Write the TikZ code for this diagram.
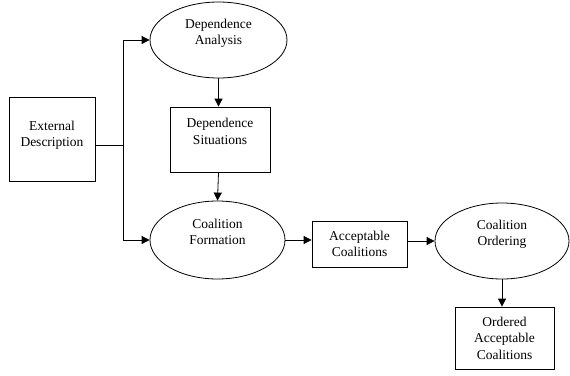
\documentclass[tikz,border=0pt]{standalone}
\usepackage{fontspec}
\setmainfont{Liberation Serif}
\usepackage{tikz}
\usetikzlibrary{arrows.meta}
\usetikzlibrary{shapes.geometric}
\tikzset{
  caixa/.style={draw, rectangle, align=center, inner sep=0pt, font=\fontsize{13.5}{16.5}\selectfont},
  elipse/.style={draw, ellipse, align=center, inner sep=0pt, font=\fontsize{13.5}{16.5}\selectfont},
  seta/.style={-{Triangle[length=8pt,width=8pt]}},
}
\begin{document}
\begin{tikzpicture}[x=1pt, y=-1pt, line width=0.8pt]
  \useasboundingbox (0,0) rectangle (570,375);
  \node[caixa, minimum width=86pt, minimum height=84pt] (ext) at (52,139) {External\\Description\\[-6pt]\mbox{}};
  \node[elipse, minimum width=137pt, minimum height=76pt] (da) at (218.5,40) {Dependence\\Analysis\\\mbox{}};
  \node[caixa, minimum width=100pt, minimum height=65pt] (ds) at (220,139.5) {Dependence\\Situations\\\mbox{}};
  \node[elipse, minimum width=135pt, minimum height=78pt] (cf) at (217.5,240) {Coalition\\Formation\\\mbox{}};
  \node[caixa, minimum width=95pt, minimum height=46pt] (ac) at (359.5,244) {Acceptable\\Coalitions};
  \node[elipse, minimum width=134pt, minimum height=76pt] (co) at (502,241) {Coalition\\Ordering\\\mbox{}};
  \node[caixa, minimum width=99pt, minimum height=62pt] (oac) at (504.5,338) {Ordered\\Acceptable\\Coalitions};
  \coordinate (br) at (123,145);
  \draw (ext.east |- br) -- (br);
  \draw[seta] (br) |- (da.west);
  \draw[seta] (br) |- (cf.west);
  \draw[seta] (da.south) -- (da.south |- ds.north);
  \draw[seta] (ds.south -| da.south) -- (cf.north);
  \draw[seta] (cf.east) -- (cf.east -| ac.west);
  \draw[seta] (co.west -| ac.east) -- (co.west);
  \draw[seta] (co.south) -- (co.south |- oac.north);
\end{tikzpicture}
\end{document}
